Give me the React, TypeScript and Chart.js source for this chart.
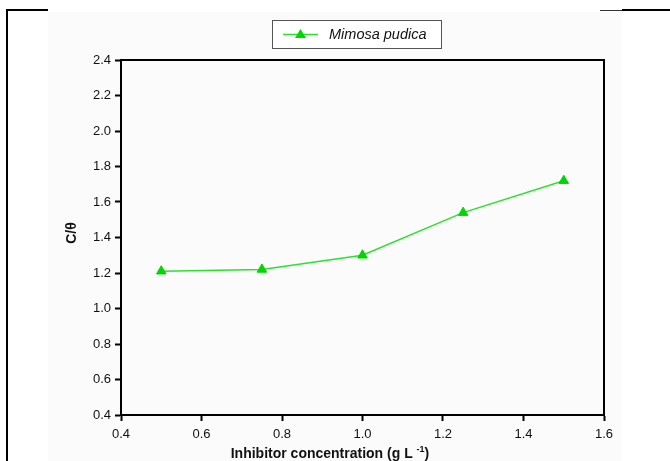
import React, { useEffect, useRef } from "react";
import { Chart, registerables } from "chart.js";

Chart.register(...registerables);

const concentrations = [0.5, 0.75, 1.0, 1.25, 1.5];
const cOverTheta = [1.21, 1.22, 1.3, 1.54, 1.72];
const seriesLabel = "Mimosa pudica";
const xTitle = "Inhibitor concentration (g L ";
const xTitleSup = "-1";
const yTitle = "C/θ";
const xTicks = [0.4, 0.6, 0.8, 1.0, 1.2, 1.4, 1.6];
const yTicks = [0.4, 0.6, 0.8, 1.0, 1.2, 1.4, 1.6, 1.8, 2.0, 2.2, 2.4];

const LINE = "#2ee02e";
const MARK = "#00d600";
const FONT = "'Liberation Sans', Arial, sans-serif";

const decorPlugin = {
  id: "decor",
  beforeDraw(chart: any) {
    const ctx = chart.ctx;
    ctx.save();
    ctx.fillStyle = "#ffffff";
    ctx.fillRect(0, 0, chart.width, chart.height);
    ctx.fillStyle = "#fbfbfb";
    ctx.fillRect(48, 12, 574, chart.height - 12);
    ctx.strokeStyle = "#000";
    ctx.lineWidth = 2;
    ctx.beginPath();
    ctx.moveTo(6, 10);
    ctx.lineTo(48, 10);
    ctx.moveTo(622, 10);
    ctx.lineTo(670, 10);
    ctx.moveTo(7, 10);
    ctx.lineTo(7, chart.height);
    ctx.stroke();
    ctx.strokeStyle = "#333";
    ctx.lineWidth = 1;
    ctx.beginPath();
    ctx.moveTo(600, 10.5);
    ctx.lineTo(622, 10.5);
    ctx.stroke();
    ctx.restore();
  },
  afterDraw(chart: any) {
    const ctx = chart.ctx;
    const a = chart.chartArea;
    ctx.save();
    ctx.strokeStyle = "#000";
    ctx.lineWidth = 2;
    ctx.beginPath();
    ctx.moveTo(a.left, a.top);
    ctx.lineTo(a.right, a.top);
    ctx.lineTo(a.right, a.bottom);
    ctx.stroke();

    // legend box
    ctx.fillStyle = "#ffffff";
    ctx.fillRect(272, 20, 170, 29);
    ctx.strokeStyle = "#555";
    ctx.lineWidth = 1;
    ctx.strokeRect(272.5, 20.5, 169, 28);
    ctx.strokeStyle = LINE;
    ctx.lineWidth = 1.5;
    ctx.beginPath();
    ctx.moveTo(283, 34.5);
    ctx.lineTo(318, 34.5);
    ctx.stroke();
    ctx.fillStyle = MARK;
    ctx.beginPath();
    ctx.moveTo(300.5, 29);
    ctx.lineTo(306, 38);
    ctx.lineTo(295, 38);
    ctx.closePath();
    ctx.fill();
    ctx.fillStyle = "#111";
    ctx.font = `italic 14.5px ${FONT}`;
    ctx.textBaseline = "middle";
    ctx.textAlign = "left";
    ctx.fillText(seriesLabel, 329, 35);

    // y title
    ctx.save();
    ctx.translate(72, 233);
    ctx.rotate(-Math.PI / 2);
    ctx.font = `bold 14px ${FONT}`;
    ctx.textAlign = "center";
    ctx.textBaseline = "middle";
    ctx.fillText(yTitle, 0, 0);
    ctx.restore();

    // x title
    ctx.font = `bold 14px ${FONT}`;
    ctx.textBaseline = "alphabetic";
    const w1 = ctx.measureText(xTitle).width;
    ctx.font = `bold 9px ${FONT}`;
    const w2 = ctx.measureText(xTitleSup).width;
    ctx.font = `bold 14px ${FONT}`;
    const w3 = ctx.measureText(")").width;
    const total = w1 + w2 + w3;
    let x = 330 - total / 2;
    const base = 458;
    ctx.fillText(xTitle, x, base);
    x += w1;
    ctx.font = `bold 9px ${FONT}`;
    ctx.fillText(xTitleSup, x, base - 6);
    x += w2;
    ctx.font = `bold 14px ${FONT}`;
    ctx.fillText(")", x, base);
    ctx.restore();
  },
};

export default function App() {
  const ref = useRef<HTMLCanvasElement>(null);
  useEffect(() => {
    if (!ref.current) return;
    const chart = new Chart(ref.current, {
      type: "line",
      data: {
        datasets: [
          {
            label: seriesLabel,
            data: concentrations.map((c, i) => ({ x: c, y: cOverTheta[i] })),
            borderColor: LINE,
            backgroundColor: MARK,
            borderWidth: 1.5,
            pointStyle: "triangle",
            pointRadius: 5.5,
            pointBackgroundColor: MARK,
            pointBorderColor: MARK,
            pointBorderWidth: 1,
            tension: 0,
          },
        ],
      },
      options: {
        animation: false,
        responsive: false,
        devicePixelRatio: 1,
        layout: { padding: { left: 0, top: 60, right: 66, bottom: 0 } },
        plugins: { legend: { display: false }, tooltip: { enabled: false } },
        scales: {
          x: {
            type: "linear",
            min: 0.4,
            max: 1.6,
            afterFit: (s: any) => {
              s.height = 46;
            },
            afterBuildTicks: (s: any) => {
              s.ticks = xTicks.map((v) => ({ value: v }));
            },
            ticks: {
              color: "#111",
              font: { family: FONT, size: 13 },
              padding: 6,
              maxRotation: 0,
              callback: (v: any) => Number(v).toFixed(1),
            },
            grid: {
              display: true,
              drawOnChartArea: false,
              drawTicks: true,
              tickLength: 6,
              tickWidth: 2,
              tickColor: "#000",
            },
            border: { display: true, color: "#000", width: 2 },
          },
          y: {
            type: "linear",
            min: 0.4,
            max: 2.4,
            afterFit: (s: any) => {
              s.width = 121;
            },
            afterBuildTicks: (s: any) => {
              s.ticks = yTicks.map((v) => ({ value: v }));
            },
            ticks: {
              color: "#111",
              font: { family: FONT, size: 13 },
              padding: 4,
              callback: (v: any) => Number(v).toFixed(1),
            },
            grid: {
              display: true,
              drawOnChartArea: false,
              drawTicks: true,
              tickLength: 6,
              tickWidth: 2,
              tickColor: "#000",
            },
            border: { display: true, color: "#000", width: 2 },
          },
        },
      },
      plugins: [decorPlugin],
    } as any);
    return () => chart.destroy();
  }, []);
  return (
    <div style={{ position: "absolute", left: 0, top: 0, width: 670, height: 461 }}>
      <canvas ref={ref} width={670} height={461} style={{ width: 670, height: 461 }} />
    </div>
  );
}
